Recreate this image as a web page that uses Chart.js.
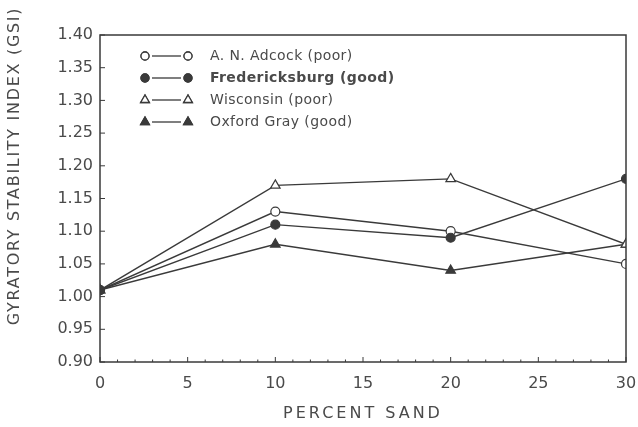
<!DOCTYPE html>
<html>
<head>
<meta charset="utf-8">
<script src="https://cdn.jsdelivr.net/npm/chart.js@4"></script>
<style>
  html, body { margin: 0; padding: 0; background: #fff; }
  #wrap { width: 638px; height: 427px; }
</style>
</head>
<body>
<div id="wrap"><canvas id="gsiChart" width="638" height="427"></canvas></div>
<script>
// percent sand on the x axis
const sandPct = [0, 10, 20, 30];

// gyratory stability index per aggregate
const adcock = [1.01, 1.13, 1.10, 1.05];
const fredericksburg = [1.01, 1.11, 1.09, 1.18];
const wisconsin = [1.01, 1.17, 1.18, 1.08];
const oxfordGray = [1.01, 1.08, 1.04, 1.08];

const seriesNames = ['A. N. Adcock (poor)', 'Fredericksburg (good)', 'Wisconsin (poor)', 'Oxford Gray (good)'];
const xTitle = 'PERCENT SAND';
const yTitle = 'GYRATORY STABILITY INDEX (GSI)';

const ink = '#3a3a3a';
const textInk = '#4a4a4a';
const fontFamily = '"DejaVu Sans", "Open Sans", sans-serif';

function toPoints(values) {
  return sandPct.map((x, i) => ({ x: x, y: values[i] }));
}

const markers = [
  { style: 'circle', fill: '#fff', radius: 4.5 },
  { style: 'circle', fill: ink, radius: 4.5 },
  { style: 'triangle', fill: '#fff', radius: 5.5 },
  { style: 'triangle', fill: ink, radius: 5.5 }
];

// frame, inward ticks, spaced-out axis titles and the legend
const framePlugin = {
  id: 'frame',
  afterDraw(chart) {
    const ctx = chart.ctx;
    const area = chart.chartArea;
    const xs = chart.scales.x;
    const ys = chart.scales.y;
    ctx.save();
    ctx.strokeStyle = ink;
    ctx.lineWidth = 1.5;
    ctx.strokeRect(area.left, area.top, area.right - area.left, area.bottom - area.top);

    ctx.lineWidth = 1;
    for (let v = 0; v <= 30; v++) {
      const px = xs.getPixelForValue(v);
      const len = v % 5 === 0 ? 5 : 2.5;
      ctx.beginPath();
      ctx.moveTo(px, area.bottom);
      ctx.lineTo(px, area.bottom - len);
      ctx.stroke();
    }
    for (let i = 0; i <= 10; i++) {
      const py = ys.getPixelForValue(0.9 + i * 0.05);
      ctx.beginPath();
      ctx.moveTo(area.left, py);
      ctx.lineTo(area.left + 5, py);
      ctx.stroke();
    }

    // axis titles
    ctx.fillStyle = textInk;
    ctx.font = '16px ' + fontFamily;
    ctx.textAlign = 'center';
    ctx.textBaseline = 'middle';
    ctx.letterSpacing = '3px';
    ctx.fillText(xTitle, (area.left + area.right) / 2, 414);
    ctx.letterSpacing = '1.7px';
    ctx.save();
    ctx.translate(15, 166);
    ctx.rotate(-Math.PI / 2);
    ctx.fillText(yTitle, 0, 0);
    ctx.restore();
    ctx.letterSpacing = '0px';

    // legend
    const rowY = [56, 78, 100, 122];
    const x1 = 145, x2 = 188, textX = 210;
    ctx.textBaseline = 'middle';
    ctx.textAlign = 'left';
    seriesNames.forEach((name, i) => {
      const y = rowY[i];
      const m = markers[i];
      ctx.strokeStyle = ink;
      ctx.lineWidth = 1.3;
      ctx.beginPath();
      ctx.moveTo(x1 + 7, y);
      ctx.lineTo(x2 - 7, y);
      ctx.stroke();
      [x1, x2].forEach(mx => {
        Chart.helpers.drawPoint(ctx, {
          pointStyle: m.style, radius: m.radius - 0.5, borderWidth: 1.2
        }, mx, y);
        ctx.fillStyle = m.fill;
        ctx.fill();
        ctx.stroke();
      });
      ctx.fillStyle = textInk;
      ctx.font = (i === 1 ? 'bold ' : '') + '14px ' + fontFamily;
      ctx.letterSpacing = '0.4px';
      ctx.fillText(name, textX, y);
      ctx.letterSpacing = '0px';
    });
    ctx.restore();
  }
};

const seriesValues = [adcock, fredericksburg, wisconsin, oxfordGray];
const datasets = seriesValues.map((vals, i) => ({
  label: seriesNames[i],
  data: toPoints(vals),
  borderColor: ink,
  borderWidth: 1.4,
  pointStyle: markers[i].style,
  pointRadius: markers[i].radius,
  pointBackgroundColor: markers[i].fill,
  pointBorderColor: ink,
  pointBorderWidth: 1.2,
  order: i === 1 ? 0 : i + 1,
  tension: 0
}));

new Chart(document.getElementById('gsiChart'), {
  type: 'line',
  data: { datasets: datasets },
  plugins: [framePlugin],
  options: {
    responsive: false,
    animation: false,
    layout: { padding: { left: 0, right: 12, top: 35, bottom: 0 } },
    plugins: {
      legend: { display: false },
      tooltip: { enabled: false }
    },
    scales: {
      x: {
        type: 'linear',
        min: 0,
        max: 30,
        grid: { display: false, drawTicks: false },
        border: { display: false },
        ticks: { stepSize: 5, padding: 12, color: textInk, font: { family: fontFamily, size: 16 } },
        afterFit(scale) {
          scale.height = 65;
          scale.paddingLeft = 0;
          scale.paddingRight = 0;
        }
      },
      y: {
        type: 'linear',
        min: 0.9,
        max: 1.4,
        grid: { display: false, drawTicks: false },
        border: { display: false },
        ticks: {
          stepSize: 0.05,
          padding: 7,
          color: textInk,
          font: { family: fontFamily, size: 16 },
          callback: v => v.toFixed(2)
        },
        afterFit(scale) { scale.width = 100; }
      }
    }
  }
});
</script>
</body>
</html>
